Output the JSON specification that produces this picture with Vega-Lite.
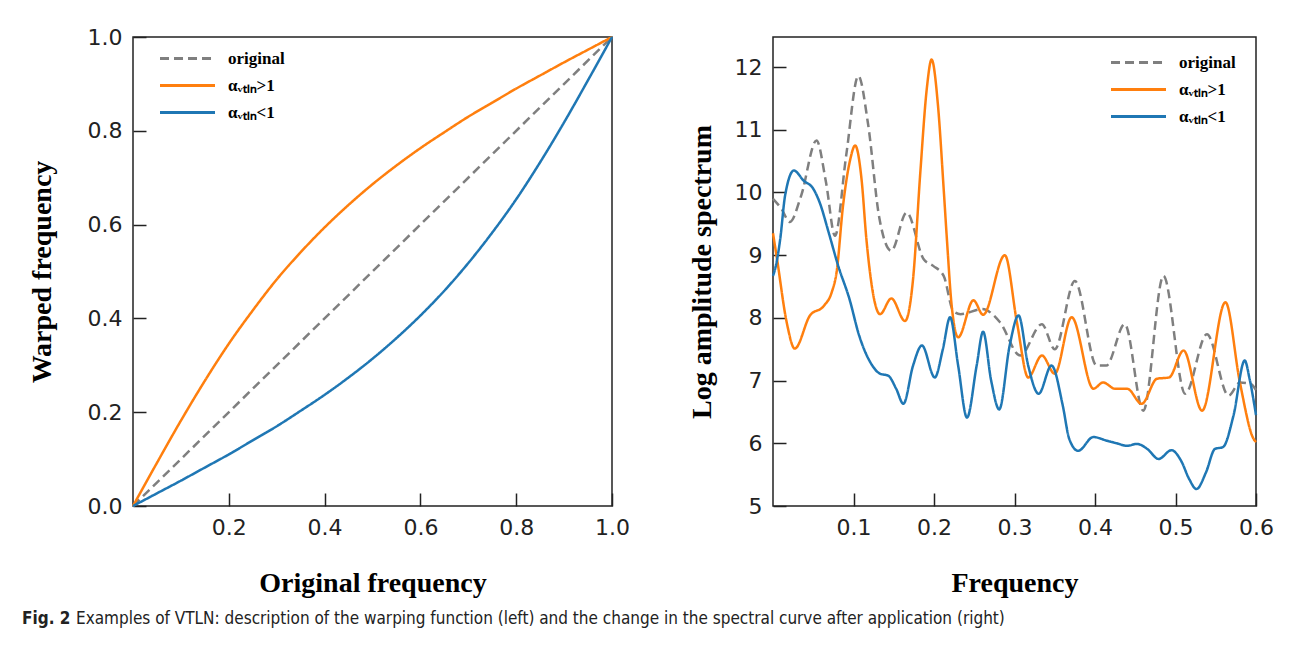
{
  "$schema": "https://vega.github.io/schema/vega-lite/v6.json",
  "background": "white",
  "padding": {"left": 22, "top": 25, "right": 10, "bottom": 5},
  "config": {
    "view": {"stroke": "#222", "strokeWidth": 1.5},
    "axis": {"domain": false, "grid": false, "tickSize": -13, "tickColor": "#222", "tickWidth": 1.5, "labelFont": "DejaVu Sans", "labelFontSize": 22, "labelColor": "#222", "labelPadding": 24, "labelFlush": false, "titleFont": "Liberation Serif", "titleFontSize": 28, "titleFontWeight": "bold", "titleColor": "#000"},
    "legend": {"title": null, "symbolType": "M-2,0H2", "symbolSize": 756, "symbolStrokeWidth": 3, "labelFont": "Liberation Serif", "labelFontSize": 17, "labelFontWeight": "bold", "labelColor": "#000", "labelOffset": 25, "rowPadding": 3, "padding": 0}
  },
  "datasets": {
    "warp": [
      {"s": "original", "f": 0, "w": 0}, {"s": "original", "f": 1, "w": 1},
      {"s": "αᵥₜₗₙ>1", "f": 0, "w": 0}, {"s": "αᵥₜₗₙ>1", "f": 0.05, "w": 0.092}, {"s": "αᵥₜₗₙ>1", "f": 0.1, "w": 0.182}, {"s": "αᵥₜₗₙ>1", "f": 0.15, "w": 0.267}, {"s": "αᵥₜₗₙ>1", "f": 0.2, "w": 0.346}, {"s": "αᵥₜₗₙ>1", "f": 0.25, "w": 0.417}, {"s": "αᵥₜₗₙ>1", "f": 0.3, "w": 0.483}, {"s": "αᵥₜₗₙ>1", "f": 0.35, "w": 0.541}, {"s": "αᵥₜₗₙ>1", "f": 0.4, "w": 0.594}, {"s": "αᵥₜₗₙ>1", "f": 0.45, "w": 0.642}, {"s": "αᵥₜₗₙ>1", "f": 0.5, "w": 0.686}, {"s": "αᵥₜₗₙ>1", "f": 0.55, "w": 0.726}, {"s": "αᵥₜₗₙ>1", "f": 0.6, "w": 0.763}, {"s": "αᵥₜₗₙ>1", "f": 0.65, "w": 0.797}, {"s": "αᵥₜₗₙ>1", "f": 0.7, "w": 0.83}, {"s": "αᵥₜₗₙ>1", "f": 0.75, "w": 0.86}, {"s": "αᵥₜₗₙ>1", "f": 0.8, "w": 0.89}, {"s": "αᵥₜₗₙ>1", "f": 0.85, "w": 0.918}, {"s": "αᵥₜₗₙ>1", "f": 0.9, "w": 0.946}, {"s": "αᵥₜₗₙ>1", "f": 0.95, "w": 0.973}, {"s": "αᵥₜₗₙ>1", "f": 1, "w": 1},
      {"s": "αᵥₜₗₙ<1", "f": 0, "w": 0}, {"s": "αᵥₜₗₙ<1", "f": 0.05, "w": 0.027}, {"s": "αᵥₜₗₙ<1", "f": 0.1, "w": 0.054}, {"s": "αᵥₜₗₙ<1", "f": 0.15, "w": 0.082}, {"s": "αᵥₜₗₙ<1", "f": 0.2, "w": 0.11}, {"s": "αᵥₜₗₙ<1", "f": 0.25, "w": 0.14}, {"s": "αᵥₜₗₙ<1", "f": 0.3, "w": 0.17}, {"s": "αᵥₜₗₙ<1", "f": 0.35, "w": 0.203}, {"s": "αᵥₜₗₙ<1", "f": 0.4, "w": 0.237}, {"s": "αᵥₜₗₙ<1", "f": 0.45, "w": 0.274}, {"s": "αᵥₜₗₙ<1", "f": 0.5, "w": 0.314}, {"s": "αᵥₜₗₙ<1", "f": 0.55, "w": 0.358}, {"s": "αᵥₜₗₙ<1", "f": 0.6, "w": 0.406}, {"s": "αᵥₜₗₙ<1", "f": 0.65, "w": 0.459}, {"s": "αᵥₜₗₙ<1", "f": 0.7, "w": 0.518}, {"s": "αᵥₜₗₙ<1", "f": 0.75, "w": 0.583}, {"s": "αᵥₜₗₙ<1", "f": 0.8, "w": 0.654}, {"s": "αᵥₜₗₙ<1", "f": 0.85, "w": 0.733}, {"s": "αᵥₜₗₙ<1", "f": 0.9, "w": 0.818}, {"s": "αᵥₜₗₙ<1", "f": 0.95, "w": 0.908}, {"s": "αᵥₜₗₙ<1", "f": 1, "w": 1}
    ],
    "spec": [
      {"s": "original", "f": 0.0, "v": 9.9}, {"s": "original", "f": 0.01, "v": 9.75}, {"s": "original", "f": 0.021, "v": 9.53}, {"s": "original", "f": 0.035, "v": 9.95}, {"s": "original", "f": 0.054, "v": 10.83}, {"s": "original", "f": 0.066, "v": 10.15}, {"s": "original", "f": 0.077, "v": 9.31}, {"s": "original", "f": 0.091, "v": 10.6}, {"s": "original", "f": 0.106, "v": 11.86}, {"s": "original", "f": 0.118, "v": 11.1}, {"s": "original", "f": 0.132, "v": 9.6}, {"s": "original", "f": 0.147, "v": 9.07}, {"s": "original", "f": 0.166, "v": 9.68}, {"s": "original", "f": 0.187, "v": 8.94}, {"s": "original", "f": 0.199, "v": 8.83}, {"s": "original", "f": 0.212, "v": 8.67}, {"s": "original", "f": 0.224, "v": 8.11}, {"s": "original", "f": 0.233, "v": 8.06}, {"s": "original", "f": 0.26, "v": 8.14}, {"s": "original", "f": 0.282, "v": 7.93}, {"s": "original", "f": 0.307, "v": 7.4}, {"s": "original", "f": 0.334, "v": 7.9}, {"s": "original", "f": 0.35, "v": 7.5}, {"s": "original", "f": 0.375, "v": 8.59}, {"s": "original", "f": 0.402, "v": 7.24}, {"s": "original", "f": 0.414, "v": 7.24}, {"s": "original", "f": 0.437, "v": 7.9}, {"s": "original", "f": 0.46, "v": 6.52}, {"s": "original", "f": 0.485, "v": 8.67}, {"s": "original", "f": 0.512, "v": 6.79}, {"s": "original", "f": 0.539, "v": 7.74}, {"s": "original", "f": 0.566, "v": 6.76}, {"s": "original", "f": 0.58, "v": 6.97}, {"s": "original", "f": 0.593, "v": 6.95}, {"s": "original", "f": 0.6, "v": 6.85},
      {"s": "αᵥₜₗₙ>1", "f": 0.0, "v": 9.35}, {"s": "αᵥₜₗₙ>1", "f": 0.005, "v": 8.94}, {"s": "αᵥₜₗₙ>1", "f": 0.017, "v": 7.93}, {"s": "αᵥₜₗₙ>1", "f": 0.027, "v": 7.51}, {"s": "αᵥₜₗₙ>1", "f": 0.046, "v": 8.04}, {"s": "αᵥₜₗₙ>1", "f": 0.063, "v": 8.19}, {"s": "αᵥₜₗₙ>1", "f": 0.073, "v": 8.41}, {"s": "αᵥₜₗₙ>1", "f": 0.079, "v": 8.73}, {"s": "αᵥₜₗₙ>1", "f": 0.087, "v": 9.79}, {"s": "αᵥₜₗₙ>1", "f": 0.096, "v": 10.53}, {"s": "αᵥₜₗₙ>1", "f": 0.102, "v": 10.75}, {"s": "αᵥₜₗₙ>1", "f": 0.11, "v": 10.21}, {"s": "αᵥₜₗₙ>1", "f": 0.116, "v": 9.26}, {"s": "αᵥₜₗₙ>1", "f": 0.133, "v": 8.06}, {"s": "αᵥₜₗₙ>1", "f": 0.147, "v": 8.31}, {"s": "αᵥₜₗₙ>1", "f": 0.164, "v": 7.95}, {"s": "αᵥₜₗₙ>1", "f": 0.174, "v": 8.62}, {"s": "αᵥₜₗₙ>1", "f": 0.183, "v": 10.32}, {"s": "αᵥₜₗₙ>1", "f": 0.191, "v": 11.65}, {"s": "αᵥₜₗₙ>1", "f": 0.197, "v": 12.12}, {"s": "αᵥₜₗₙ>1", "f": 0.205, "v": 11.38}, {"s": "αᵥₜₗₙ>1", "f": 0.212, "v": 10.06}, {"s": "αᵥₜₗₙ>1", "f": 0.216, "v": 9.26}, {"s": "αᵥₜₗₙ>1", "f": 0.222, "v": 8.19}, {"s": "αᵥₜₗₙ>1", "f": 0.23, "v": 7.69}, {"s": "αᵥₜₗₙ>1", "f": 0.249, "v": 8.28}, {"s": "αᵥₜₗₙ>1", "f": 0.261, "v": 8.05}, {"s": "αᵥₜₗₙ>1", "f": 0.288, "v": 9.0}, {"s": "αᵥₜₗₙ>1", "f": 0.303, "v": 7.93}, {"s": "αᵥₜₗₙ>1", "f": 0.317, "v": 7.05}, {"s": "αᵥₜₗₙ>1", "f": 0.334, "v": 7.4}, {"s": "αᵥₜₗₙ>1", "f": 0.35, "v": 7.11}, {"s": "αᵥₜₗₙ>1", "f": 0.371, "v": 8.01}, {"s": "αᵥₜₗₙ>1", "f": 0.398, "v": 6.87}, {"s": "αᵥₜₗₙ>1", "f": 0.41, "v": 6.97}, {"s": "αᵥₜₗₙ>1", "f": 0.425, "v": 6.87}, {"s": "αᵥₜₗₙ>1", "f": 0.44, "v": 6.87}, {"s": "αᵥₜₗₙ>1", "f": 0.458, "v": 6.63}, {"s": "αᵥₜₗₙ>1", "f": 0.477, "v": 7.03}, {"s": "αᵥₜₗₙ>1", "f": 0.492, "v": 7.05}, {"s": "αᵥₜₗₙ>1", "f": 0.51, "v": 7.48}, {"s": "αᵥₜₗₙ>1", "f": 0.533, "v": 6.52}, {"s": "αᵥₜₗₙ>1", "f": 0.562, "v": 8.25}, {"s": "αᵥₜₗₙ>1", "f": 0.58, "v": 6.97}, {"s": "αᵥₜₗₙ>1", "f": 0.597, "v": 6.07}, {"s": "αᵥₜₗₙ>1", "f": 0.6, "v": 6.02},
      {"s": "αᵥₜₗₙ<1", "f": 0.0, "v": 8.67}, {"s": "αᵥₜₗₙ<1", "f": 0.003, "v": 8.8}, {"s": "αᵥₜₗₙ<1", "f": 0.009, "v": 9.26}, {"s": "αᵥₜₗₙ<1", "f": 0.015, "v": 9.95}, {"s": "αᵥₜₗₙ<1", "f": 0.026, "v": 10.35}, {"s": "αᵥₜₗₙ<1", "f": 0.038, "v": 10.19}, {"s": "αᵥₜₗₙ<1", "f": 0.05, "v": 10.06}, {"s": "αᵥₜₗₙ<1", "f": 0.058, "v": 9.84}, {"s": "αᵥₜₗₙ<1", "f": 0.069, "v": 9.37}, {"s": "αᵥₜₗₙ<1", "f": 0.081, "v": 8.83}, {"s": "αᵥₜₗₙ<1", "f": 0.095, "v": 8.3}, {"s": "αᵥₜₗₙ<1", "f": 0.107, "v": 7.72}, {"s": "αᵥₜₗₙ<1", "f": 0.121, "v": 7.29}, {"s": "αᵥₜₗₙ<1", "f": 0.133, "v": 7.11}, {"s": "αᵥₜₗₙ<1", "f": 0.143, "v": 7.08}, {"s": "αᵥₜₗₙ<1", "f": 0.153, "v": 6.87}, {"s": "αᵥₜₗₙ<1", "f": 0.162, "v": 6.63}, {"s": "αᵥₜₗₙ<1", "f": 0.174, "v": 7.24}, {"s": "αᵥₜₗₙ<1", "f": 0.185, "v": 7.56}, {"s": "αᵥₜₗₙ<1", "f": 0.201, "v": 7.05}, {"s": "αᵥₜₗₙ<1", "f": 0.211, "v": 7.5}, {"s": "αᵥₜₗₙ<1", "f": 0.22, "v": 8.01}, {"s": "αᵥₜₗₙ<1", "f": 0.23, "v": 7.24}, {"s": "αᵥₜₗₙ<1", "f": 0.241, "v": 6.41}, {"s": "αᵥₜₗₙ<1", "f": 0.253, "v": 7.24}, {"s": "αᵥₜₗₙ<1", "f": 0.261, "v": 7.78}, {"s": "αᵥₜₗₙ<1", "f": 0.271, "v": 7.0}, {"s": "αᵥₜₗₙ<1", "f": 0.281, "v": 6.54}, {"s": "αᵥₜₗₙ<1", "f": 0.294, "v": 7.56}, {"s": "αᵥₜₗₙ<1", "f": 0.305, "v": 8.04}, {"s": "αᵥₜₗₙ<1", "f": 0.317, "v": 7.24}, {"s": "αᵥₜₗₙ<1", "f": 0.33, "v": 6.79}, {"s": "αᵥₜₗₙ<1", "f": 0.346, "v": 7.24}, {"s": "αᵥₜₗₙ<1", "f": 0.36, "v": 6.6}, {"s": "αᵥₜₗₙ<1", "f": 0.368, "v": 6.07}, {"s": "αᵥₜₗₙ<1", "f": 0.379, "v": 5.88}, {"s": "αᵥₜₗₙ<1", "f": 0.398, "v": 6.1}, {"s": "αᵥₜₗₙ<1", "f": 0.415, "v": 6.04}, {"s": "αᵥₜₗₙ<1", "f": 0.427, "v": 6.0}, {"s": "αᵥₜₗₙ<1", "f": 0.44, "v": 5.96}, {"s": "αᵥₜₗₙ<1", "f": 0.452, "v": 5.99}, {"s": "αᵥₜₗₙ<1", "f": 0.465, "v": 5.91}, {"s": "αᵥₜₗₙ<1", "f": 0.479, "v": 5.75}, {"s": "αᵥₜₗₙ<1", "f": 0.495, "v": 5.89}, {"s": "αᵥₜₗₙ<1", "f": 0.507, "v": 5.72}, {"s": "αᵥₜₗₙ<1", "f": 0.517, "v": 5.43}, {"s": "αᵥₜₗₙ<1", "f": 0.526, "v": 5.27}, {"s": "αᵥₜₗₙ<1", "f": 0.538, "v": 5.54}, {"s": "αᵥₜₗₙ<1", "f": 0.549, "v": 5.91}, {"s": "αᵥₜₗₙ<1", "f": 0.559, "v": 5.94}, {"s": "αᵥₜₗₙ<1", "f": 0.572, "v": 6.44}, {"s": "αᵥₜₗₙ<1", "f": 0.586, "v": 7.32}, {"s": "αᵥₜₗₙ<1", "f": 0.592, "v": 7.03}, {"s": "αᵥₜₗₙ<1", "f": 0.6, "v": 6.45}
    ],
    "caption": [
      {"part": "Fig. 2", "kind": "bold"},
      {"part": "Examples of VTLN: description of the warping function (left) and the change in the spectral curve after application (right)", "kind": "plain"}
    ]
  },
  "spacing": 11,
  "vconcat": [
    {
      "bounds": "flush",
      "spacing": 161,
      "resolve": {"scale": {"color": "independent", "strokeDash": "independent"}, "legend": {"color": "independent", "strokeDash": "independent"}},
      "hconcat": [
        {
          "width": 479,
          "height": 469,
          "data": {"name": "warp"},
          "mark": {"type": "line", "strokeWidth": 2.5, "interpolate": "monotone"},
          "encoding": {
            "x": {"field": "f", "type": "quantitative", "scale": {"domain": [0, 1], "nice": false, "zero": false}, "axis": {"values": [0.2, 0.4, 0.6, 0.8, 1.0], "format": ".1f", "title": "Original frequency", "titlePadding": 31}},
            "y": {"field": "w", "type": "quantitative", "scale": {"domain": [0, 1], "nice": false}, "axis": {"values": [0, 0.2, 0.4, 0.6, 0.8, 1.0], "format": ".1f", "title": "Warped frequency", "titlePadding": 31}},
            "color": {"field": "s", "type": "nominal", "scale": {"domain": ["original", "αᵥₜₗₙ>1", "αᵥₜₗₙ<1"], "range": ["#7f7f7f", "#ff7f0e", "#1f77b4"]}, "legend": {"orient": "none", "legendX": 39, "legendY": 6}},
            "strokeDash": {"field": "s", "type": "nominal", "scale": {"domain": ["original", "αᵥₜₗₙ>1", "αᵥₜₗₙ<1"], "range": [[9, 5], [1, 0], [1, 0]]}, "legend": {"orient": "none", "legendX": 39, "legendY": 6}}
          }
        },
        {
          "width": 483,
          "height": 469,
          "data": {"name": "spec"},
          "mark": {"type": "line", "strokeWidth": 2.5, "interpolate": "monotone"},
          "encoding": {
            "x": {"field": "f", "type": "quantitative", "scale": {"domain": [0, 0.6], "nice": false, "zero": false}, "axis": {"values": [0.1, 0.2, 0.3, 0.4, 0.5, 0.6], "format": ".1f", "title": "Frequency", "titlePadding": 31}},
            "y": {"field": "v", "type": "quantitative", "scale": {"domain": [5, 12.48], "nice": false, "zero": false}, "axis": {"values": [5, 6, 7, 8, 9, 10, 11, 12], "format": "d", "title": "Log amplitude spectrum", "titlePadding": 18}},
            "color": {"field": "s", "type": "nominal", "scale": {"domain": ["original", "αᵥₜₗₙ>1", "αᵥₜₗₙ<1"], "range": ["#7f7f7f", "#ff7f0e", "#1f77b4"]}, "legend": {"orient": "none", "legendX": 350, "legendY": 10}},
            "strokeDash": {"field": "s", "type": "nominal", "scale": {"domain": ["original", "αᵥₜₗₙ>1", "αᵥₜₗₙ<1"], "range": [[9, 5], [1, 0], [1, 0]]}, "legend": {"orient": "none", "legendX": 350, "legendY": 10}}
          }
        }
      ]
    },
    {
      "width": 1120,
      "height": 20,
      "view": {"stroke": null},
      "data": {"name": "caption"},
      "layer": [
        {
          "transform": [{"filter": "datum.kind === 'bold'"}],
          "mark": {"type": "text", "align": "left", "baseline": "middle", "font": "DejaVu Sans Condensed, DejaVu Sans, sans-serif", "fontSize": 17, "fontWeight": "bold", "color": "#222", "dx": -111},
          "encoding": {"x": {"datum": 0, "type": "quantitative", "scale": {"domain": [0, 1]}, "axis": null}, "text": {"field": "part"}}
        },
        {
          "transform": [{"filter": "datum.kind === 'plain'"}],
          "mark": {"type": "text", "align": "left", "baseline": "middle", "font": "DejaVu Sans Condensed, DejaVu Sans, sans-serif", "fontSize": 17, "color": "#222", "dx": -57},
          "encoding": {"x": {"datum": 0, "type": "quantitative", "scale": {"domain": [0, 1]}, "axis": null}, "text": {"field": "part"}}
        }
      ]
    }
  ]
}
